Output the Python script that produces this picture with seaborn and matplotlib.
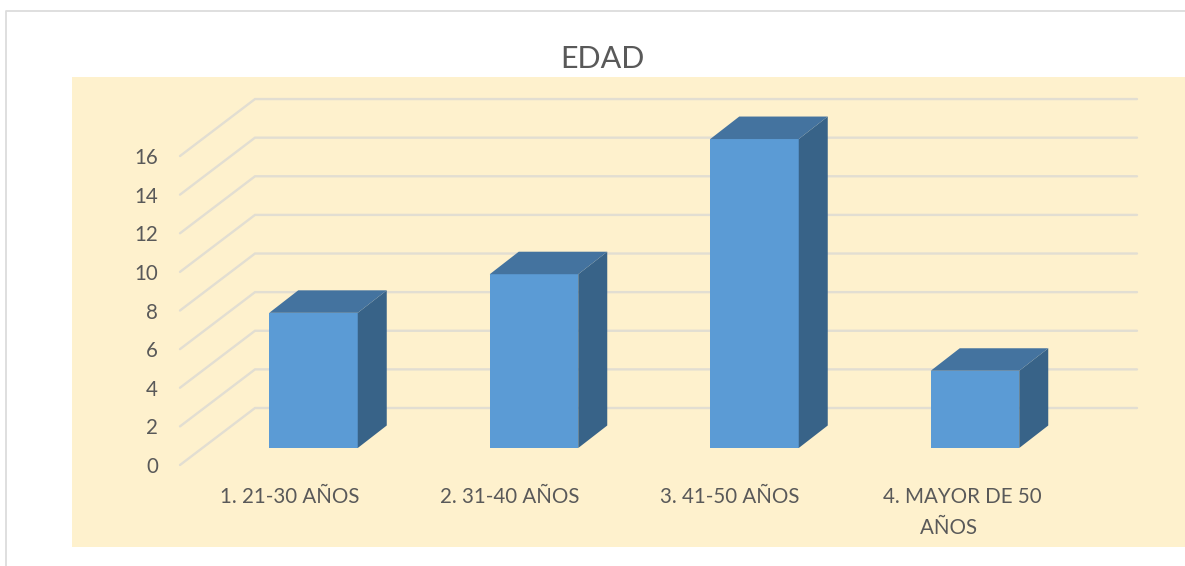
import numpy as np
import pandas as pd
import matplotlib
matplotlib.use("Agg")
import matplotlib.pyplot as plt
from matplotlib.lines import Line2D
import seaborn as sns

categories = ["1. 21-30 AÑOS", "2. 31-40 AÑOS", "3. 41-50 AÑOS", "4. MAYOR DE 50\nAÑOS     "]
counts = [7, 9, 16, 4]
axis_values = [0, 2, 4, 6, 8, 10, 12, 14, 16]

W, H = 1185, 566
PLOT_L, PLOT_R, PLOT_T, PLOT_B = 72, 1185, 77, 547
STEP_X, UNIT_Y = 220.5, 19.31
X0_PX, Y0_PX = 313.5, 448.0

sns.set_theme(style="white")
plt.rcParams["font.family"] = ["Lato", "DejaVu Sans"]
TEXT = "#595959"

fig = plt.figure(figsize=(W / 100, H / 100), dpi=100, facecolor="white")
ax = fig.add_axes([PLOT_L / W, 1 - PLOT_B / H, (PLOT_R - PLOT_L) / W, (PLOT_B - PLOT_T) / H])
ax.set_facecolor("#FEF1CD")

df = pd.DataFrame({"edad": categories, "n": counts})
sns.barplot(data=df, x="edad", y="n", color="#5B9BD5", saturation=1, width=88.5 / STEP_X, ax=ax)

px_x = lambda p: (p - X0_PX) / STEP_X
px_y = lambda p: (Y0_PX - p) / UNIT_Y
ax.set_xlim(px_x(PLOT_L), px_x(PLOT_R))
ax.set_ylim(px_y(PLOT_B), px_y(PLOT_T))

# oblique wall + side gridlines
depth_x, depth_y = 29 / STEP_X, 22.5 / UNIT_Y
front_off, back_off = -17 / UNIT_Y, 40 / UNIT_Y
for v in axis_values:
    ax.plot([px_x(180), px_x(255), px_x(1137)],
            [v + front_off, v + back_off, v + back_off],
            color="#E2DED2", lw=1.7, zorder=1, solid_joinstyle="miter")

# bar side and top faces
for patch, v in zip(ax.patches, counts):
    patch.set_zorder(3)
    patch.set_edgecolor("none")
    x0 = patch.get_x()
    x1 = x0 + patch.get_width()
    ax.fill([x1, x1 + depth_x, x1 + depth_x, x1],
            [0, depth_y, v + depth_y, v], color="#386388", lw=0, zorder=3)
    ax.fill([x0, x1, x1 + depth_x, x0 + depth_x],
            [v, v, v + depth_y, v + depth_y], color="#44739F", lw=0, zorder=3)

# axis labels as real ticks, moved onto the plot area
ax.set_yticks(np.array(axis_values) + front_off, [str(v) for v in axis_values])
ax.set_xticks([px_x(p) for p in (290, 510, 730, 962)], categories)
ax.tick_params(axis="y", length=0, pad=-62, labelsize=14.8, labelcolor=TEXT)
ax.tick_params(axis="x", length=0, pad=-43, labelsize=14.8, labelcolor=TEXT)
for t in ax.get_xticklabels():
    t.set_linespacing(1.65)
ax.set_xlabel("")
ax.set_ylabel("")
sns.despine(ax=ax, left=True, bottom=True, right=True, top=True)

fig.text(602 / W, 1 - 58.5 / H, "EDAD", ha="center", va="center", fontsize=22, color=TEXT)

# outer chart frame, visible on the top and left only
fig.add_artist(Line2D([6 / W, 6 / W, 1], [0, 1 - 11 / H, 1 - 11 / H],
                      transform=fig.transFigure, color="#DCDCDC", lw=1.3))

fig.savefig("out.png", dpi=100)
